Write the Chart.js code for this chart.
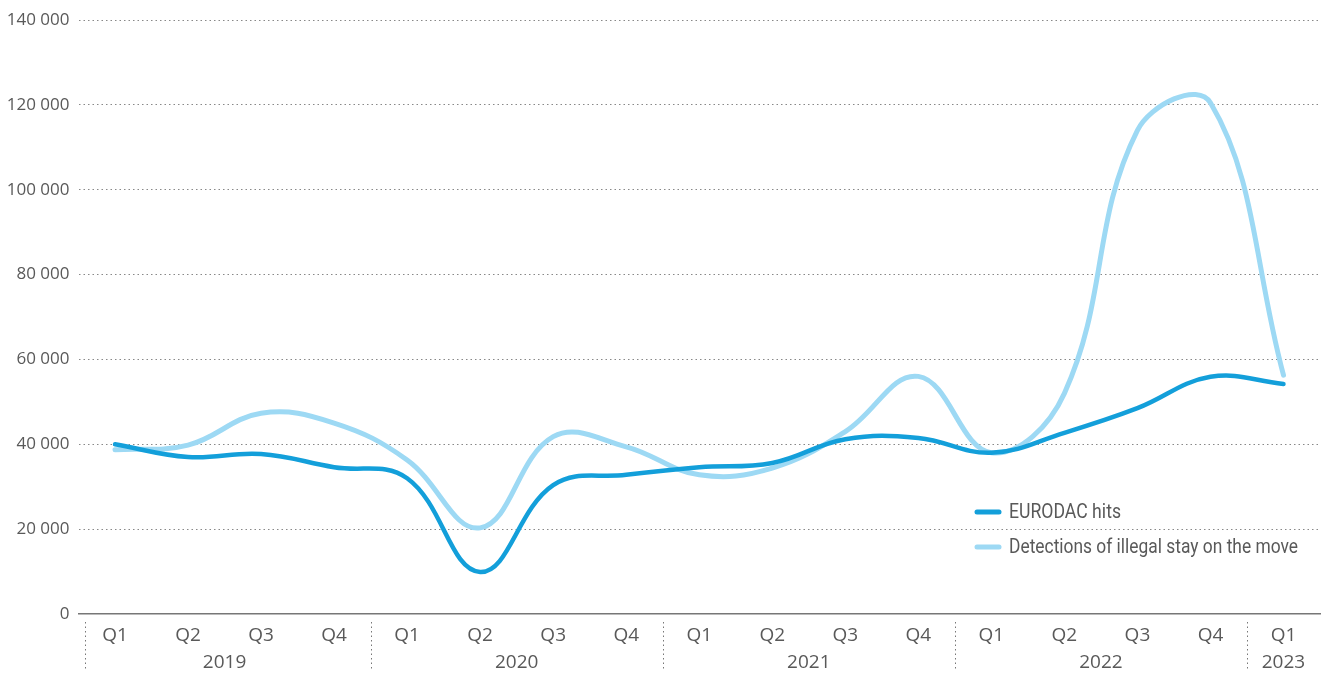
<!DOCTYPE html>
<html>
<head>
<meta charset="utf-8">
<script src="https://cdn.jsdelivr.net/npm/chart.js@4.4.0/dist/chart.umd.min.js"></script>
<style>
html,body{margin:0;padding:0;background:#fff;}
#wrap{width:1328px;height:675px;position:relative;}
</style>
</head>
<body>
<div id="wrap"><canvas id="c" width="1328" height="675"></canvas></div>
<script>
const quarters = ['Q1','Q2','Q3','Q4','Q1','Q2','Q3','Q4','Q1','Q2','Q3','Q4','Q1','Q2','Q3','Q4','Q1'];
const years = ['2019','2020','2021','2022','2023'];
const yearStarts = [0,4,8,12,16];
const eurodacHits = [40000,37000,37700,34600,32000,9900,30400,32800,34600,35600,41200,41500,38000,42700,48500,55900,54200];
const illegalStay = [38700,39800,47300,45000,36300,20300,41800,39400,32800,34400,43000,56000,38000,52000,114000,120500,56300];
const yTicks = [0,20000,40000,60000,80000,100000,120000,140000];

const FONT = '"Open Sans", "Noto Sans", sans-serif';
const LEGEND_FONT = 'Roboto, "Noto Sans", sans-serif';
const TXT = '#595959';

const extras = {
  id: 'extras',
  afterDraw(chart) {
    const ctx = chart.ctx;
    const x = chart.scales.x;
    const step = x.getPixelForValue(1) - x.getPixelForValue(0);
    ctx.save();
    // year separators
    ctx.strokeStyle = '#777';
    ctx.lineWidth = 1;
    ctx.setLineDash([1.5, 3]);
    yearStarts.forEach((s, i) => {
      let px = x.getPixelForValue(s) - step / 2;
      if (i === 0) px = chart.chartArea.left + 6;
      px = Math.round(px) + 0.5;
      ctx.beginPath();
      ctx.moveTo(px, 622);
      ctx.lineTo(px, 671);
      ctx.stroke();
    });
    ctx.setLineDash([]);
    // year labels
    ctx.fillStyle = TXT;
    ctx.font = '19px ' + FONT;
    ctx.textAlign = 'center';
    ctx.textBaseline = 'middle';
    years.forEach((yr, i) => {
      const s = yearStarts[i];
      const e = Math.min(s + 3, quarters.length - 1);
      const cx = (x.getPixelForValue(s) + x.getPixelForValue(e)) / 2;
      ctx.fillText(yr, cx, 663);
    });
    // legend
    const items = [
      {label: 'EURODAC hits', color: '#139fda', w: 112},
      {label: 'Detections of illegal stay on the move', color: '#9dd9f4', w: 289}
    ];
    ctx.textAlign = 'left';
    ctx.font = '20px ' + LEGEND_FONT;
    ctx.lineCap = 'round';
    items.forEach((it, i) => {
      const yy = 512 + i * 35;
      ctx.strokeStyle = it.color;
      ctx.lineWidth = 5;
      ctx.beginPath();
      ctx.moveTo(977, yy);
      ctx.lineTo(999, yy);
      ctx.stroke();
      ctx.fillStyle = TXT;
      ctx.fillText(it.label, 1009, yy + 1, it.w);
    });
    ctx.restore();
  }
};

new Chart(document.getElementById('c'), {
  type: 'line',
  data: {
    labels: quarters,
    datasets: [
      {
        label: 'EURODAC hits',
        data: eurodacHits,
        borderColor: '#139fda',
        borderWidth: 4.5,
        tension: 0.4,
        pointRadius: 0,
        borderCapStyle: 'round',
        fill: false
      },
      {
        label: 'Detections of illegal stay on the move',
        data: illegalStay,
        borderColor: '#9dd9f4',
        borderWidth: 5,
        tension: 0.4,
        pointRadius: 0,
        borderCapStyle: 'round',
        fill: false
      }
    ]
  },
  options: {
    responsive: false,
    animation: false,
    devicePixelRatio: 1,
    layout: {padding: {top: 20, right: 8, left: 0, bottom: 0}},
    plugins: {legend: {display: false}, tooltip: {enabled: false}},
    scales: {
      x: {
        offset: true,
        grid: {display: false, drawTicks: false},
        border: {display: true, color: '#777', width: 1.5},
        ticks: {color: TXT, font: {family: FONT, size: 19}, padding: 10, maxRotation: 0, autoSkip: false},
        afterFit(s) { s.height = 61; }
      },
      y: {
        min: 0,
        max: 140000,
        afterBuildTicks(s) { s.ticks = yTicks.map(v => ({value: v})); },
        grid: {
          color: ctx => ctx.tick && ctx.tick.value === 0 ? 'rgba(0,0,0,0)' : '#888',
          lineWidth: 1,
          drawTicks: false
        },
        border: {display: false, dash: [1.5, 3]},
        ticks: {
          color: TXT,
          font: {family: FONT, size: 17},
          padding: 9,
          callback: v => String(v).replace(/\B(?=(\d{3})+(?!\d))/g, ' ')
        },
        afterFit(s) { s.width = 78.5; }
      }
    }
  },
  plugins: [extras]
});
</script>
</body>
</html>
